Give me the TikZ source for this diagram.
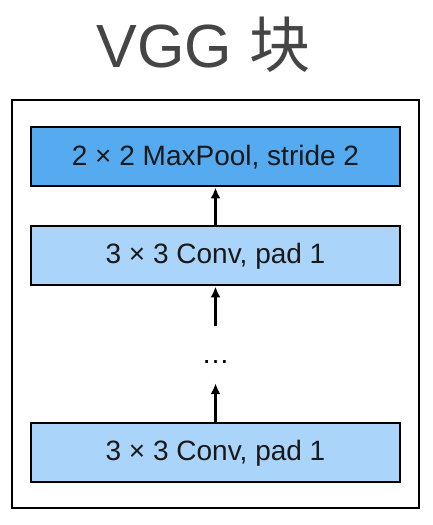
\documentclass[tikz,border=0pt]{standalone}
\usepackage{fontspec}
\setmainfont{Liberation Sans}
\newfontfamily\cjkfont{Noto Sans CJK SC}
\usetikzlibrary{arrows.meta, positioning}

\definecolor{poolblue}{HTML}{55AAF0}
\definecolor{convblue}{HTML}{AAD4FA}
\definecolor{titlegray}{HTML}{454545}

\begin{document}
\begin{tikzpicture}[
    x=1pt, y=1pt,
    >={Latex[length=11pt, width=10pt]}, % Set default arrow tip style
    layer/.style={draw, line width=2pt, minimum width=369pt, minimum height=59pt,
      inner sep=0pt, font=\fontsize{28}{28}\selectfont, text=black!90}, % Style for layers
    arr/.style={->, line width=2.4pt}, % Style for arrows
    frame/.style={draw, line width=2pt, minimum width=407pt, minimum height=408pt} % Style for the block
]
    \useasboundingbox (0,0) rectangle (432,525);

    % Title
    \node[text=titlegray, font=\fontsize{61}{61}\selectfont] (title) at (203.5,480)
      {VGG {\cjkfont 块}};

    % Outer block
    \node[frame] (block) at (215.5,221) {};

    % Layers, bottom to top
    \node[layer, fill=convblue] (convB) at (215.5,72) {3 × 3 Conv, pad 1};
    \node[layer, fill=convblue, above=136pt of convB] (convA) {3 × 3 Conv, pad 1};
    \node[layer, fill=poolblue, above=38pt of convA] (pool) {2 × 2 MaxPool, stride 2};

    % Dots between the convolutions
    \node[inner sep=0pt, minimum height=42pt, font=\fontsize{28}{28}\selectfont] (dots) at (215.5,163) {…};

    % Arrows
    \draw[arr] (convB.north) -- (dots.south);
    \draw[arr, shorten <=15pt] (dots.north) -- (convA.south);
    \draw[arr] (convA.north) -- (pool.south);

\end{tikzpicture}
\end{document}
